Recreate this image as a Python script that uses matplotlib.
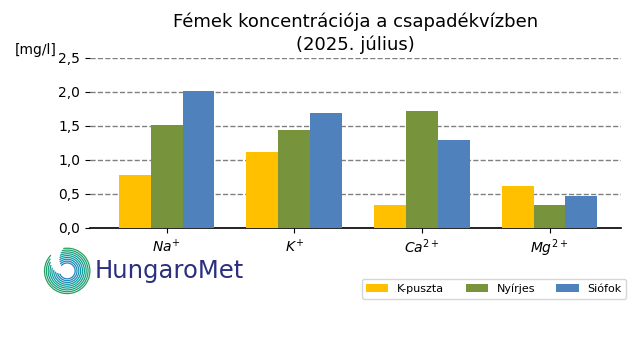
import matplotlib
matplotlib.use("Agg")
import matplotlib.pyplot as plt
import numpy as np
from matplotlib.patches import Arc
from matplotlib.ticker import FuncFormatter

categories = ["$Na^{+}$", "$K^{+}$", "$Ca^{2+}$", "$Mg^{2+}$"]
series_names = ["K-puszta", "Nyírjes", "Siófok"]
kpuszta = [0.78, 1.12, 0.34, 0.62]
nyirjes = [1.51, 1.44, 1.72, 0.34]
siofok = [2.01, 1.69, 1.29, 0.47]
colors = ["#FFC000", "#77933C", "#4F81BD"]

fig = plt.figure(figsize=(6.4, 3.6), dpi=100)
ax = fig.add_axes([0.1406, 0.3667, 0.8297, 0.4722])

x = np.arange(len(categories))
w = 0.25
for i, (vals, name, c) in enumerate(zip([kpuszta, nyirjes, siofok], series_names, colors)):
    ax.bar(x + (i - 1) * w, vals, width=w, color=c, label=name, zorder=3)

ax.set_xlim(-0.6, 3.56)
ax.set_ylim(0, 2.5)
ax.set_yticks([0, 0.5, 1.0, 1.5, 2.0, 2.5])
ax.yaxis.set_major_formatter(FuncFormatter(lambda v, p: f"{v:.1f}".replace(".", ",")))
ax.set_xticks(x)
ax.set_xticklabels(categories, fontsize=10)
ax.tick_params(axis="y", labelsize=10)
ax.grid(axis="y", color="gray", linestyle="--", linewidth=1, zorder=0)
for s in ["top", "right", "left"]:
    ax.spines[s].set_visible(False)
ax.spines["bottom"].set_linewidth(1.2)

fig.text(0.555, 0.965, "Fémek koncentrációja a csapadékvízben\n(2025. július)",
         ha="center", va="top", fontsize=13, linespacing=1.3)
fig.text(0.023, 0.86, "[mg/l]", fontsize=10, ha="left", va="center")

leg = fig.legend(loc="lower right", bbox_to_anchor=(0.987, 0.155), ncol=3, fontsize=8,
                 frameon=True, handlelength=2.0, columnspacing=1.9)

# logo
lax = fig.add_axes([0.066, 0.175, 0.078, 0.145])
lax.set_aspect("equal")
lax.set_xlim(-1.1, 1.1)
lax.set_ylim(-1.1, 1.1)
lax.axis("off")
cmap = matplotlib.colors.LinearSegmentedColormap.from_list("h", ["#2a7fc0", "#0aa0a0", "#2aa060"])
radii = np.linspace(0.35, 1.0, 9)
for k, r in enumerate(radii):
    t1 = 200 - k * 8
    t2 = 200 + 300 - k * 5
    lax.add_patch(Arc((0, 0), 2 * r, 2 * r, theta1=t1, theta2=t2,
                      color=cmap(k / (len(radii) - 1)), lw=0.9))
fig.text(0.148, 0.248, "HungaroMet", fontsize=17.5, color="#2a2f80", ha="left", va="center",
         family="DejaVu Sans")

fig.savefig("out.png", dpi=100)
